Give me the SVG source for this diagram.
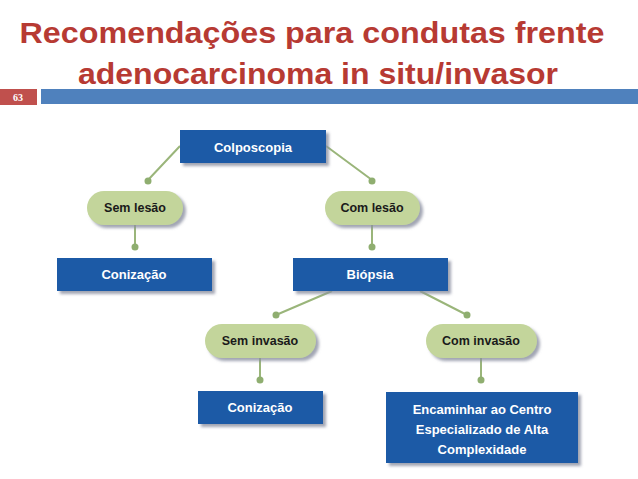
<svg xmlns="http://www.w3.org/2000/svg" width="638" height="479" viewBox="0 0 638 479">
<defs>
<filter id="sh" x="-10%" y="-10%" width="130%" height="140%"><feDropShadow dx="3" dy="3" stdDeviation="1.5" flood-color="#8a8fa0" flood-opacity="0.8"/></filter>
</defs>
<style>
.box{fill:#1c5aa6;filter:url(#sh)}
.pill{fill:#c3d59b;filter:url(#sh)}
.bt{font-family:"Liberation Sans",Arial,sans-serif;font-weight:bold;font-size:13px;fill:#fff;text-anchor:middle}
.pt{font-family:"Liberation Sans",Arial,sans-serif;font-weight:bold;font-size:12.5px;fill:#1a1a1a;text-anchor:middle}
.ln{stroke:#9ab57a;stroke-width:2;fill:none}
.dot{fill:#8fae70}
.title{font-family:"Liberation Sans",Arial,sans-serif;font-weight:bold;font-size:30px;fill:#b73a33;text-anchor:middle}
</style>
<rect width="638" height="479" fill="#fff"/>
<text class="title" x="312" y="43" textLength="585" lengthAdjust="spacingAndGlyphs">Recomendações para condutas frente</text>
<text class="title" x="318" y="84" textLength="480" lengthAdjust="spacingAndGlyphs">adenocarcinoma in situ/invasor</text>
<rect x="0" y="89" width="37" height="16" fill="#c0504d"/>
<text x="18" y="101" font-family="Liberation Serif,serif" font-weight="bold" font-size="10" fill="#fff" text-anchor="middle">63</text>
<rect x="41" y="89" width="597" height="15" fill="#4f81bd"/>
<g id="connectors">
<path class="ln" d="M180 146 L148 180 M326 146 L372 180 M135 225 L135 247 M372 225 L372 247 M332 291 L276 315 M420 291 L467 315 M260 358 L260 380 M481 358 L481 380"/>
<circle class="dot" cx="148" cy="181" r="3.5"/><circle class="dot" cx="372" cy="181" r="3.5"/>
<circle class="dot" cx="135" cy="247" r="3.5"/><circle class="dot" cx="372" cy="247" r="3.5"/>
<circle class="dot" cx="276" cy="315" r="3.5"/><circle class="dot" cx="467" cy="315" r="3.5"/>
<circle class="dot" cx="260" cy="380" r="3.5"/><circle class="dot" cx="481" cy="380" r="3.5"/>
</g>
<g id="colposcopia"><rect class="box" x="180" y="130" width="146" height="33"/><text class="bt" x="253" y="152">Colposcopia</text></g>
<g id="semlesao"><rect class="pill" x="87" y="191" width="96" height="34" rx="17"/><text class="pt" x="135" y="212">Sem lesão</text></g>
<g id="comlesao"><rect class="pill" x="325" y="191" width="95" height="34" rx="17"/><text class="pt" x="372" y="212">Com lesão</text></g>
<g id="conizacao1"><rect class="box" x="57" y="258" width="155" height="33"/><text class="bt" x="134" y="279">Conização</text></g>
<g id="biopsia"><rect class="box" x="293" y="258" width="155" height="33"/><text class="bt" x="370" y="279">Biópsia</text></g>
<g id="seminvasao"><rect class="pill" x="205" y="324" width="111" height="34" rx="17"/><text class="pt" x="260" y="345">Sem invasão</text></g>
<g id="cominvasao"><rect class="pill" x="426" y="324" width="111" height="34" rx="17"/><text class="pt" x="481" y="345">Com invasão</text></g>
<g id="conizacao2"><rect class="box" x="198" y="391" width="125" height="33"/><text class="bt" x="260" y="412">Conização</text></g>
<g id="encaminhar"><rect class="box" x="386" y="392" width="192" height="71"/>
<text class="bt" x="482" y="414">Encaminhar ao Centro</text>
<text class="bt" x="482" y="434">Especializado de Alta</text>
<text class="bt" x="482" y="454">Complexidade</text></g>
</svg>
